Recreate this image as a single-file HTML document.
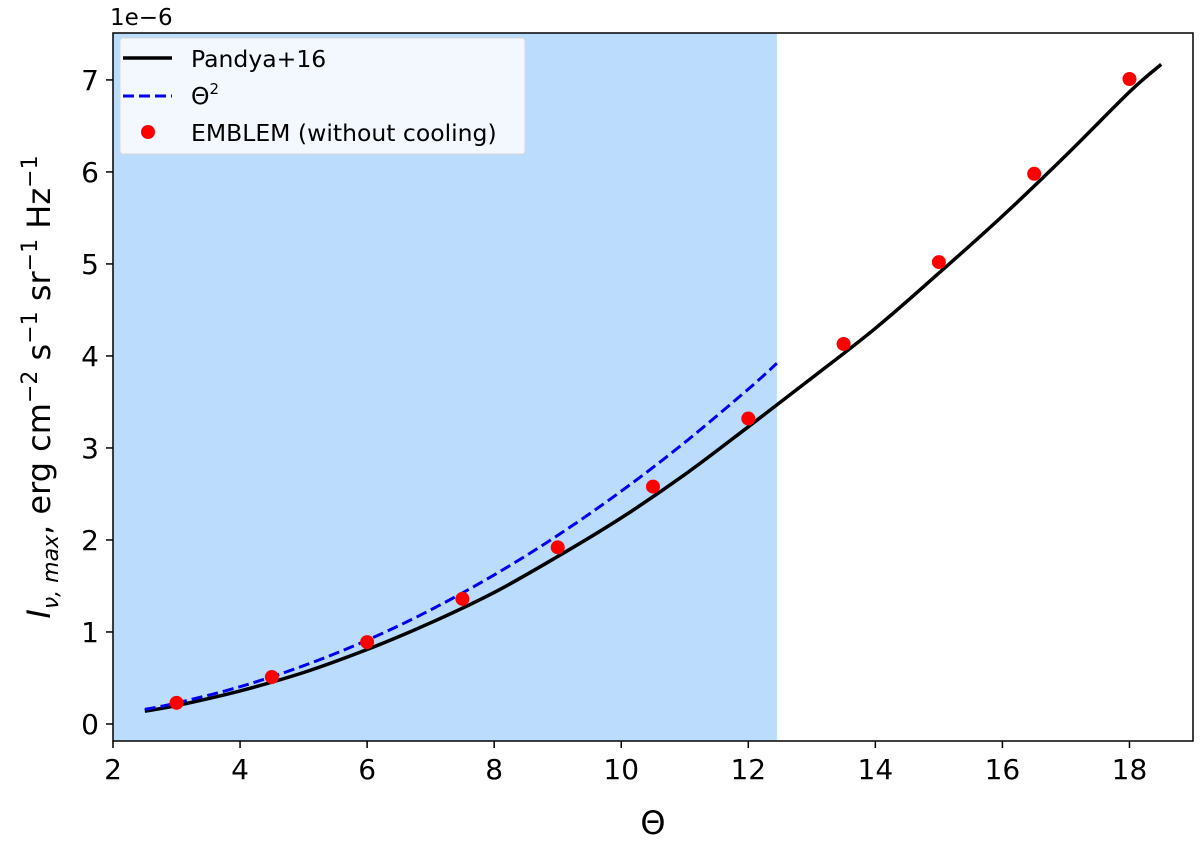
<!DOCTYPE html>
<html><head><meta charset="utf-8"><style>
body{margin:0;background:#fff;width:1200px;height:839px;overflow:hidden}
svg text{font-family:"DejaVu Sans","Liberation Sans",sans-serif;fill:#000}
</style></head><body>
<svg id="chart" width="1200" height="839" xmlns="http://www.w3.org/2000/svg"></svg>
<script>
const curveX=[2.5,3,4,5,6,7,8,9,10,11,12,13,14,15,16,17,18,18.5];
const curveY=[0.14,0.2,0.36,0.56,0.81,1.1,1.43,1.82,2.24,2.71,3.23,3.76,4.3,4.9,5.52,6.18,6.87,7.17];
const dashX=[2.5,3,4,5,6,7,8,9,10,11,12,12.45];
const dashY=[0.158,0.228,0.405,0.633,0.911,1.24,1.62,2.05,2.53,3.06,3.64,3.92];
const ptX=[3,4.5,6,7.5,9,10.5,12,13.5,15,16.5,18];
const ptY=[0.23,0.51,0.89,1.36,1.92,2.58,3.32,4.13,5.02,5.98,7.01];
const xTicks=[2,4,6,8,10,12,14,16,18];
const yTicks=[0,1,2,3,4,5,6,7];
const shadeMax=12.45;
const L=113,R=1193,T=33,B=741,X0=2,X1=19,Y0=-0.185,Y1=7.51;
const sx=v=>L+(v-X0)/(X1-X0)*(R-L);
const sy=v=>B-(v-Y0)/(Y1-Y0)*(B-T);
const svg=document.getElementById('chart');
const NS='http://www.w3.org/2000/svg';
function mk(tag,attrs,parent){const e=document.createElementNS(NS,tag);for(const k in attrs)e.setAttribute(k,attrs[k]);(parent||svg).appendChild(e);return e;}
function smooth(xs,ys){
  const p=xs.map((x,i)=>[sx(x),sy(ys[i])]);
  let d='M'+p[0][0].toFixed(1)+','+p[0][1].toFixed(1);
  for(let i=0;i<p.length-1;i++){
    const p0=p[Math.max(0,i-1)],p1=p[i],p2=p[i+1],p3=p[Math.min(p.length-1,i+2)];
    const c1=[p1[0]+(p2[0]-p0[0])/6,p1[1]+(p2[1]-p0[1])/6];
    const c2=[p2[0]-(p3[0]-p1[0])/6,p2[1]-(p3[1]-p1[1])/6];
    d+='C'+c1.map(v=>v.toFixed(1))+' '+c2.map(v=>v.toFixed(1))+' '+p2.map(v=>v.toFixed(1));
  }
  return d;
}
let e;
e=mk('rect',{x:L,y:T,width:sx(shadeMax)-L,height:B-T,fill:'#bbdcfc'});


e=mk('path',{d:smooth(curveX,curveY),fill:'none',stroke:'#000','stroke-width':3.5});


e=mk('path',{d:smooth(dashX,dashY),fill:'none',stroke:'#0000ee','stroke-width':3,'stroke-dasharray':'11,5'});


ptX.forEach((x,i)=>{
  e=mk('circle',{cx:sx(x),cy:sy(ptY[i]),r:7,fill:'#ff0000'});
  
  
});
e=mk('rect',{x:L,y:T,width:R-L,height:B-T,fill:'none',stroke:'#000','stroke-width':1.5});


xTicks.forEach(v=>{
  mk('line',{x1:sx(v),x2:sx(v),y1:B,y2:B+7,stroke:'#000','stroke-width':1.5});
  e=mk('text',{x:sx(v),y:B+38,'text-anchor':'middle','font-size':28});
  e.textContent=v;
  
  
});
yTicks.forEach(v=>{
  mk('line',{x1:L,x2:L-7,y1:sy(v),y2:sy(v),stroke:'#000','stroke-width':1.5});
  e=mk('text',{x:L-14,y:sy(v)+10,'text-anchor':'end','font-size':28});
  e.textContent=v;
  
  
});
e=mk('text',{x:110,y:25,'font-size':23});
e.textContent='1e\u22126';


e=mk('text',{x:(L+R)/2,y:834,'text-anchor':'middle','font-size':32});
e.textContent='\u0398';


e=mk('text',{x:0,y:0,'text-anchor':'middle','font-size':32,transform:'translate(50,'+((T+B)/2)+') rotate(-90)'});
e.innerHTML='<tspan font-style="italic">I</tspan><tspan font-style="italic" font-size="22" dy="8">\u03bd, max</tspan><tspan dy="-8">, erg cm</tspan><tspan font-size="22" dy="-13">\u22122</tspan><tspan dy="13"> s</tspan><tspan font-size="22" dy="-13">\u22121</tspan><tspan dy="13"> sr</tspan><tspan font-size="22" dy="-13">\u22121</tspan><tspan dy="13"> Hz</tspan><tspan font-size="22" dy="-13">\u22121</tspan>';


const lg=mk('g',{});


mk('rect',{x:120,y:38,width:405,height:116,rx:3,fill:'#f2f8fe',stroke:'#d8d8d8','stroke-width':1},lg);
mk('line',{x1:123,x2:172,y1:58,y2:58,stroke:'#000','stroke-width':3.5},lg);
mk('line',{x1:123,x2:172,y1:96,y2:96,stroke:'#0000ee','stroke-width':3,'stroke-dasharray':'11,5'},lg);
mk('circle',{cx:148,cy:132,r:7,fill:'#ff0000'},lg);
[['Pandya+16',67],['\u0398<tspan font-size="15" dy="-10">2</tspan>',104],['EMBLEM (without cooling)',141]].forEach(([t,y])=>{
  e=mk('text',{x:191,y:y,'font-size':23.5},lg);
  e.innerHTML=t;
  
  
});
</script>
</body></html>
